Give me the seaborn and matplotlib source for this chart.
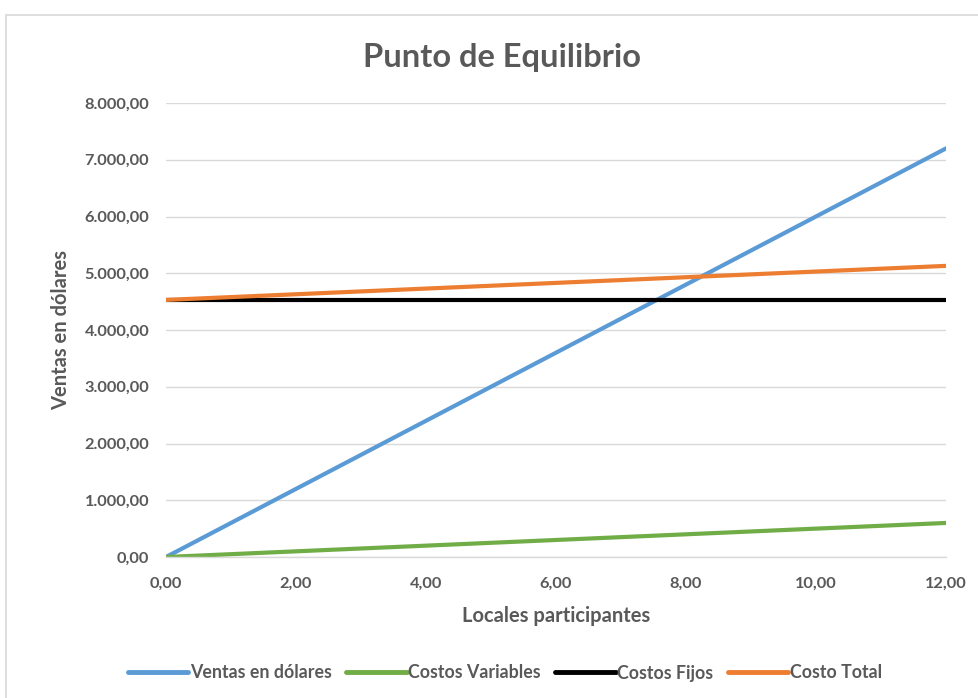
import matplotlib
matplotlib.use("Agg")
import matplotlib.pyplot as plt
from matplotlib.patches import Rectangle
from matplotlib.ticker import FuncFormatter, MultipleLocator
import seaborn as sns
import pandas as pd

# Break-even data: units (locales) vs. dollars
locales = [0, 2, 4, 6, 8, 10, 12]
ventas = [0, 1200, 2400, 3600, 4800, 6000, 7200]
costos_variables = [0, 100, 200, 300, 400, 500, 600]
costos_fijos = [4530, 4530, 4530, 4530, 4530, 4530, 4530]
costo_total = [4530, 4630, 4730, 4830, 4930, 5030, 5130]

series_names = ["Ventas en dólares", "Costos Variables", "Costos Fijos", "Costo Total"]
series_values = [ventas, costos_variables, costos_fijos, costo_total]
colors = ["#5B9BD5", "#70AD47", "#000000", "#ED7D31"]

rows = []
for name, vals in zip(series_names, series_values):
    for x, y in zip(locales, vals):
        rows.append({"Locales": x, "Valor": y, "Serie": name})
df = pd.DataFrame(rows)

sns.set_style("white")
plt.rcParams["font.family"] = ["Lato", "DejaVu Sans"]

text_gray = "#595959"

fig = plt.figure(figsize=(9.79, 6.98), dpi=100)
ax = fig.add_axes([166 / 979, 1 - 557 / 698, (946 - 166) / 979, (557 - 103) / 698])

sns.lineplot(data=df, x="Locales", y="Valor", hue="Serie", hue_order=series_names,
             palette=colors, linewidth=3.0, ax=ax, legend=False)

ax.set_xlim(0, 12)
ax.set_ylim(0, 8000)
ax.xaxis.set_major_locator(MultipleLocator(2))
ax.yaxis.set_major_locator(MultipleLocator(1000))


def es_format(v, decimals=2):
    s = f"{v:,.{decimals}f}"
    return s.replace(",", "X").replace(".", ",").replace("X", ".")


ax.xaxis.set_major_formatter(FuncFormatter(lambda v, p: es_format(v)))
ax.yaxis.set_major_formatter(FuncFormatter(lambda v, p: es_format(v)))

ax.grid(axis="y", color="#D9D9D9", linewidth=1.0)
ax.grid(axis="x", visible=False)
for side in ["top", "right", "left"]:
    ax.spines[side].set_visible(False)
ax.spines["bottom"].set_color("#D9D9D9")
ax.spines["bottom"].set_linewidth(1.0)
ax.tick_params(axis="both", length=0, labelsize=11.8, labelcolor=text_gray)
ax.tick_params(axis="x", pad=14)
ax.tick_params(axis="y", pad=12)
for lab in ax.get_xticklabels() + ax.get_yticklabels():
    lab.set_fontweight("bold")

ax.set_xlabel("Locales participantes", fontsize=14.5, fontweight="bold", color=text_gray, labelpad=11)
ax.set_ylabel("Ventas en dólares", fontsize=14.5, fontweight="bold", color=text_gray, labelpad=10)

fig.text(502 / 979, 1 - 57 / 698, "Punto de Equilibrio", ha="center", va="center",
         fontsize=23.5, fontweight="bold", color=text_gray)

# Chart-area frame
fig.patches.append(Rectangle((6 / 979, -0.1), 1.2, 1 - 15 / 698 + 0.1,
                             transform=fig.transFigure, fill=False,
                             edgecolor="#D9D9D9", linewidth=1.2))

handles = [plt.Line2D([], [], color=c, linewidth=3.5) for c in colors]
leg = fig.legend(handles, series_names, loc="center", bbox_to_anchor=(505 / 979, 1 - 673 / 698),
                 ncol=4, frameon=False, fontsize=12.8, handlelength=3.4, handletextpad=0.1,
                 columnspacing=0.8)
for t in leg.get_texts():
    t.set_color(text_gray)
    t.set_fontweight("bold")

fig.savefig("out.png", dpi=100)
